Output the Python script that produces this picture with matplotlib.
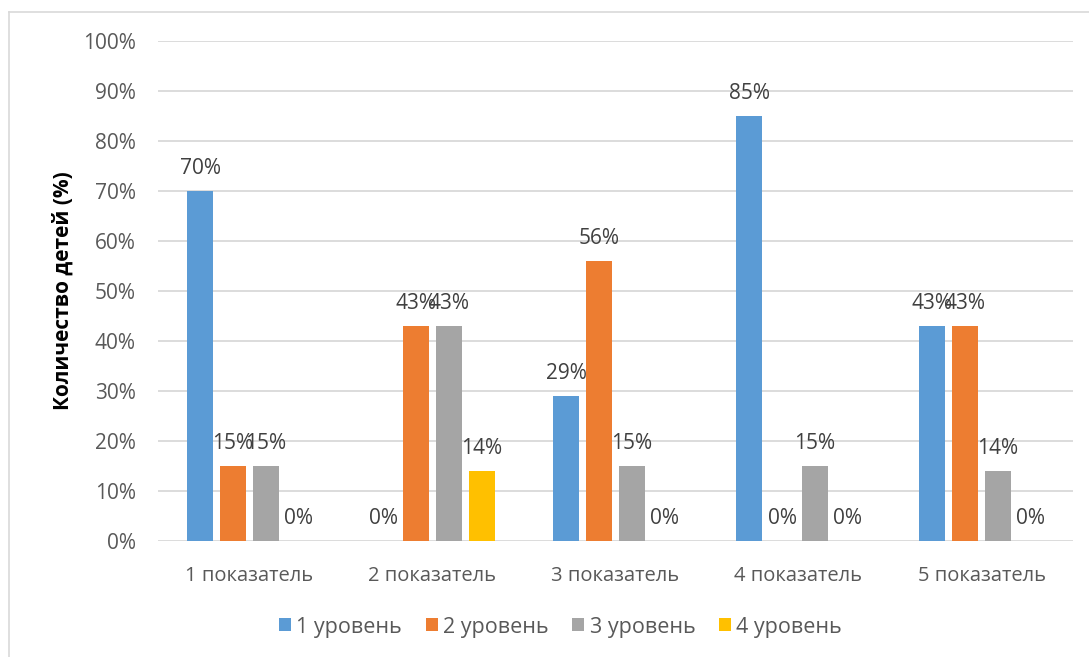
import numpy as np
import matplotlib.pyplot as plt
from matplotlib.lines import Line2D

plt.rcParams['font.family'] = ['Open Sans', 'DejaVu Sans']

categories = ['1 показатель', '2 показатель', '3 показатель', '4 показатель', '5 показатель']
series_names = ['1 уровень', '2 уровень', '3 уровень', '4 уровень']
level1 = [70, 0, 29, 85, 43]
level2 = [15, 43, 56, 0, 43]
level3 = [15, 43, 15, 15, 14]
level4 = [0, 14, 0, 0, 0]
colors = ['#5B9BD5', '#ED7D31', '#A5A5A5', '#FFC000']

fig = plt.figure(figsize=(10.89, 6.57), dpi=100)
ax = fig.add_axes([158 / 1089, 1 - 541 / 657, (1073 - 158) / 1089, 500 / 657])

x = np.arange(len(categories))
step = 0.18
width = 0.142
for i, (vals, name, c) in enumerate(zip([level1, level2, level3, level4], series_names, colors)):
    pos = x + (i - 1.5) * step
    ax.bar(pos, vals, width, color=c, label=name, zorder=3)
    for p, v in zip(pos, vals):
        ax.annotate(f'{v}%', (p, v), xytext=(0, 16.5), textcoords='offset points',
                    ha='center', va='center', fontsize=15, color='#404040')

ax.set_xlim(-0.5, len(categories) - 0.5)
ax.set_ylim(0, 100)
ax.set_yticks(range(0, 101, 10))
ax.set_yticklabels([f'{v}%' for v in range(0, 101, 10)])
ax.set_xticks(x)
ax.set_xticklabels(categories)
ax.tick_params(axis='y', length=0, labelsize=15, colors='#595959', pad=16)
ax.tick_params(axis='x', length=0, labelsize=14.5, colors='#595959', pad=18)
ax.grid(axis='y', color='#D9D9D9', linewidth=1.3, zorder=0)
for s in ax.spines.values():
    s.set_visible(False)

ax.set_ylabel('Количество детей (%)', fontsize=15, fontweight='bold', color='black', labelpad=7)

ax.legend(loc='center', bbox_to_anchor=(0.44, -0.172), ncol=4, frameon=False,
          fontsize=15.5, labelcolor='#595959', handlelength=0.55, handleheight=0.55,
          handletextpad=0.25, columnspacing=1.1)

# outer chart frame (left and top edges)
fig.add_artist(Line2D([9 / 1089, 9 / 1089], [0, 1 - 12 / 657], transform=fig.transFigure,
                      color='#D9D9D9', linewidth=1.2))
fig.add_artist(Line2D([9 / 1089, 1], [1 - 12 / 657, 1 - 12 / 657], transform=fig.transFigure,
                      color='#D9D9D9', linewidth=1.2))

fig.savefig('out.png', dpi=100, facecolor='white')
